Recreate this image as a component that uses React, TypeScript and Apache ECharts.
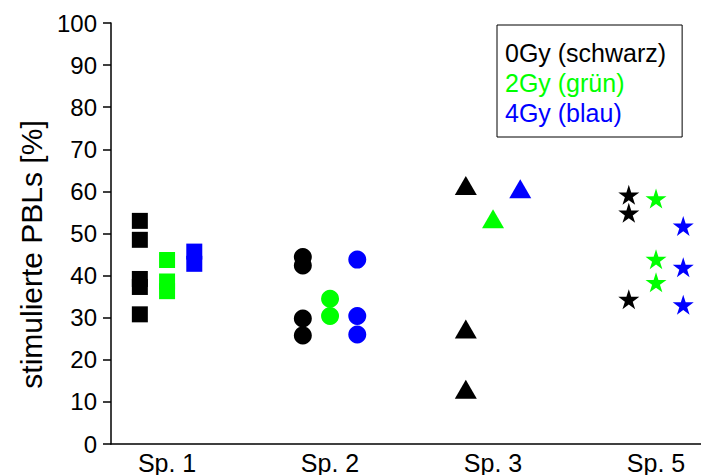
import React, { useEffect, useRef } from "react";
import * as echarts from "echarts";

// Sample groups along the x axis
const categories = ["Sp. 1", "Sp. 2", "Sp. 3", "Sp. 5"];
// Dose groups (series)
const doses = ["0Gy (schwarz)", "2Gy (grün)", "4Gy (blau)"];
const doseColors = ["#000000", "#00ff00", "#0000ff"];

// Stimulated PBLs [%] per sample, one array per dose
const gy0 = [
  [53.0, 48.5, 39.2, 37.3, 30.8],
  [44.4, 42.4, 29.8, 25.8],
  [61.4, 27.3, 13.0],
  [59.2, 54.9, 34.4],
];
const gy2 = [
  [43.7, 38.6, 36.3],
  [34.5, 30.4],
  [53.5],
  [58.3, 43.9, 38.4],
];
const gy4 = [
  [45.7, 42.8],
  [43.8, 30.4, 26.0],
  [60.6],
  [51.8, 42.0, 33.1],
];

const yTicks = [0, 10, 20, 30, 40, 50, 60, 70, 80, 90, 100];

const STAR =
  "path://M50,0 L61,35 L98,35 L68,57 L79,91 L50,70 L21,91 L32,57 L2,35 L39,35 Z";
const groupSymbols: { symbol: string; size: number | number[] }[] = [
  { symbol: "rect", size: [16, 16] },
  { symbol: "circle", size: 18 },
  { symbol: "triangle", size: [22, 19] },
  { symbol: STAR, size: [21, 20] },
];
const doseOffsets = [-0.167, 0, 0.167];

const FONT = "Liberation Sans, Arial, sans-serif";

export default function App() {
  const ref = useRef<HTMLDivElement>(null);

  useEffect(() => {
    if (!ref.current) return;
    const chart = echarts.init(ref.current, undefined, { renderer: "svg" });

    const all = [gy0, gy2, gy4];
    const series = doses.map((name, di) => ({
      name,
      type: "scatter",
      itemStyle: { color: doseColors[di], opacity: 1 },
      data: all[di].flatMap((vals, ci) =>
        vals.map((v) => ({
          value: [ci + 1 + doseOffsets[di], v],
          symbol: groupSymbols[ci].symbol,
          symbolSize: groupSymbols[ci].size,
        }))
      ),
    }));

    chart.setOption({
      animation: false,
      backgroundColor: "#ffffff",
      textStyle: { fontFamily: FONT },
      grid: { left: 111, right: 0, top: 23, bottom: 29 },
      legend: {
        left: 497,
        top: 25,
        orient: "vertical",
        selectedMode: false,
        icon: "none",
        itemWidth: 0,
        itemHeight: 14,
        itemGap: 0,
        borderColor: "#000000",
        borderWidth: 1,
        padding: [13, 16, 9, 3],
        data: doses.map((name, di) => ({
          name,
          textStyle: {
            color: doseColors[di],
            fontSize: 25,
            lineHeight: 30,
            fontFamily: FONT,
          },
        })),
      },
      xAxis: {
        type: "value",
        min: 0.656,
        max: 4.276,
        splitLine: { show: false },
        axisLine: { show: true, lineStyle: { color: "#000", width: 1.5 } },
        axisTick: { show: false },
        axisLabel: {
          customValues: [1, 2, 3, 4],
          formatter: (v: number) => categories[Math.round(v) - 1] ?? "",
          color: "#000",
          fontSize: 25,
          margin: 6,
          fontFamily: FONT,
        },
      },
      yAxis: {
        type: "value",
        min: 0,
        max: 100,
        interval: 10,
        name: "stimulierte PBLs [%]",
        nameLocation: "middle",
        nameRotate: 90,
        nameGap: 61,
        nameTextStyle: {
          color: "#000",
          fontSize: 30,
          fontFamily: FONT,
          // nudges the title below the axis midpoint
          padding: [0, 42, 0, 0],
        },
        splitLine: { show: false },
        axisLine: { show: true, lineStyle: { color: "#000", width: 1.5 } },
        axisTick: {
          show: true,
          length: 8,
          lineStyle: { color: "#000", width: 1.5 },
        },
        axisLabel: {
          color: "#000",
          fontSize: 24,
          margin: 14,
          fontFamily: FONT,
          formatter: (v: number) => (yTicks.includes(v) ? String(v) : ""),
        },
      },
      series,
    });

    return () => chart.dispose();
  }, []);

  return (
    <div
      ref={ref}
      style={{ position: "fixed", left: 0, top: 0, width: 701, height: 475 }}
    />
  );
}
